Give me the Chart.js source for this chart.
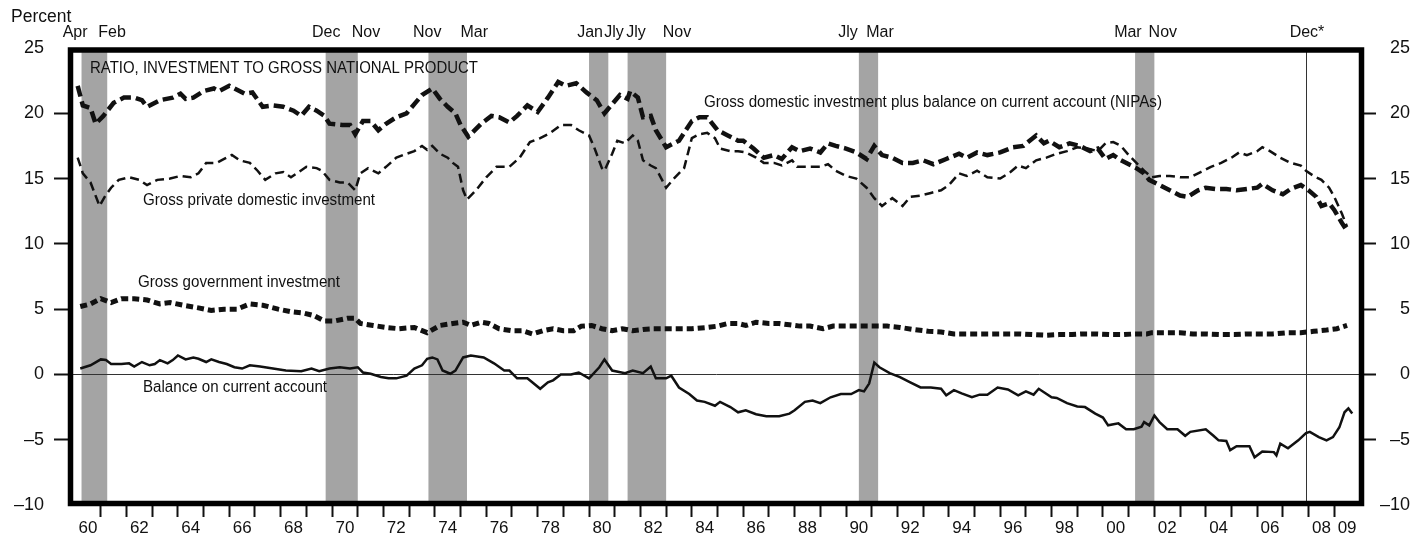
<!DOCTYPE html>
<html lang="en">
<head>
<meta charset="UTF-8">
<title>Ratio, investment to gross national product</title>
<script src="https://cdn.jsdelivr.net/npm/chart.js"></script>
<style>
  html, body { margin: 0; padding: 0; background: #fff; }
  #wrap { width: 1425px; height: 540px; position: relative; }
</style>
</head>
<body>
<div id="wrap"><canvas id="chart"></canvas></div>
<script>
// Gross domestic investment plus balance on current account (NIPAs)
const gdiYears = [1960.1,1960.3,1960.6,1960.8,1961.1,1961.5,1961.9,1962.3,1962.6,1962.8,1963.3,1963.8,1964.1,1964.3,1964.6,1965.0,1965.4,1965.6,1966.0,1966.3,1966.6,1966.9,1967.3,1967.7,1968.1,1968.5,1968.8,1969.1,1969.4,1969.7,1969.9,1970.4,1970.7,1970.9,1971.2,1971.5,1971.8,1972.1,1972.5,1972.9,1973.2,1973.5,1973.9,1974.2,1974.5,1974.8,1975.0,1975.3,1975.8,1976.2,1976.5,1976.9,1977.2,1977.6,1978.0,1978.4,1978.8,1979.1,1979.5,1979.9,1980.3,1980.6,1980.9,1981.2,1981.5,1981.6,1981.9,1982.1,1982.4,1982.6,1983.0,1983.5,1984.0,1984.3,1984.6,1985.0,1985.4,1985.8,1986.0,1986.4,1986.8,1987.2,1987.5,1987.9,1988.2,1988.6,1989.0,1989.3,1989.6,1990.0,1990.4,1990.8,1991.1,1991.4,1991.8,1992.2,1992.6,1993.0,1993.4,1993.9,1994.4,1994.7,1995.1,1995.5,1996.0,1996.5,1996.9,1997.4,1997.7,1997.9,1998.3,1998.7,1999.1,1999.5,1999.8,2000.1,2000.4,2000.7,2001.1,2001.3,2001.6,2001.8,2002.2,2002.6,2003.0,2003.3,2003.7,2004.0,2004.4,2004.8,2005.2,2005.6,2006.0,2006.2,2006.6,2007.0,2007.3,2007.7,2008.0,2008.3,2008.5,2008.8,2009.0,2009.3,2009.5];
const gdiValues = [22.1,20.6,20.4,19.2,19.8,20.8,21.2,21.2,21.0,20.5,21.0,21.2,21.5,21.1,21.2,21.7,21.9,21.7,22.1,21.8,21.5,21.6,20.5,20.6,20.5,20.2,19.8,20.5,20.2,19.8,19.2,19.1,19.1,18.4,19.4,19.4,18.7,19.2,19.7,20.0,20.7,21.4,21.9,21.1,20.5,20.0,19.1,18.2,19.2,19.8,19.7,19.3,19.8,20.6,20.1,21.2,22.4,22.1,22.3,21.6,21.0,20.0,20.7,21.4,21.1,21.7,21.2,19.7,19.8,18.7,17.4,17.9,19.4,19.7,19.7,18.7,18.3,17.9,17.9,17.3,16.6,16.8,16.5,17.4,17.1,17.3,17.0,17.7,17.5,17.3,17.0,16.5,17.5,16.8,16.6,16.2,16.2,16.4,16.1,16.5,16.9,16.6,17.0,16.8,17.0,17.4,17.5,18.3,17.7,17.9,17.4,17.7,17.5,17.1,17.3,16.5,16.8,16.4,16.0,15.8,15.4,14.9,14.5,14.1,13.7,13.6,14.1,14.3,14.2,14.2,14.1,14.2,14.3,14.6,14.1,13.8,14.2,14.5,14.1,13.6,12.9,13.1,12.6,11.6,11.0];

// Gross private domestic investment
const privYears = [1960.1,1960.3,1960.6,1960.95,1961.15,1961.4,1961.7,1962.1,1962.5,1962.8,1963.2,1963.7,1964.1,1964.5,1964.8,1965.1,1965.5,1965.8,1966.1,1966.4,1966.8,1967.1,1967.4,1967.8,1968.1,1968.4,1968.7,1969.0,1969.4,1969.6,1969.9,1970.3,1970.6,1970.9,1971.1,1971.4,1971.8,1972.1,1972.5,1972.9,1973.2,1973.5,1973.7,1973.9,1974.2,1974.5,1974.7,1974.9,1975.1,1975.25,1975.6,1976.0,1976.4,1976.9,1977.3,1977.7,1978.1,1978.5,1978.9,1979.3,1979.6,1980.0,1980.2,1980.5,1980.6,1980.9,1981.1,1981.4,1981.7,1981.9,1982.1,1982.4,1982.6,1983.0,1983.3,1983.7,1984.0,1984.3,1984.6,1984.9,1985.1,1985.5,1985.8,1986.1,1986.5,1986.8,1987.2,1987.5,1987.9,1988.1,1988.6,1989.0,1989.3,1989.6,1990.0,1990.4,1990.8,1991.1,1991.4,1991.8,1992.2,1992.5,1992.9,1993.3,1993.7,1994.0,1994.4,1994.7,1995.1,1995.5,1996.0,1996.4,1996.7,1997.0,1997.4,1997.8,1998.2,1998.6,1999.0,1999.4,1999.8,2000.1,2000.4,2000.7,2001.0,2001.3,2001.6,2001.9,2002.2,2002.6,2003.0,2003.4,2003.8,2004.2,2004.6,2005.0,2005.3,2005.6,2006.0,2006.2,2006.5,2006.9,2007.3,2007.7,2007.9,2008.2,2008.5,2008.8,2009.0,2009.3,2009.5];
const privValues = [16.6,15.4,14.7,12.9,13.6,14.3,14.9,15.1,14.9,14.5,14.9,15.0,15.2,15.1,15.4,16.2,16.2,16.5,16.8,16.4,16.2,15.6,14.9,15.4,15.5,15.1,15.5,15.9,15.8,15.6,14.9,14.7,14.7,14.1,15.4,15.8,15.4,15.9,16.6,16.9,17.1,17.5,17.2,17.5,16.9,16.6,16.2,15.9,14.1,13.4,14.1,15.1,15.9,15.9,16.6,17.8,18.1,18.5,19.1,19.1,18.7,18.3,17.4,15.8,15.6,16.9,17.9,17.7,18.3,17.9,16.4,16.0,15.8,14.3,15.0,15.8,18.1,18.4,18.5,18.1,17.3,17.1,17.1,17.0,16.6,16.2,16.2,16.0,16.4,15.9,15.9,15.9,16.1,15.6,15.2,15.0,14.3,13.5,12.9,13.5,12.9,13.6,13.7,13.9,14.1,14.5,15.4,15.2,15.6,15.1,15.0,15.5,16.0,15.8,16.4,16.6,16.9,17.1,17.4,17.3,17.1,17.7,17.8,17.5,16.8,16.2,15.6,15.1,15.2,15.2,15.1,15.1,15.5,15.9,16.2,16.6,17.0,16.8,17.1,17.4,17.1,16.6,16.2,16.0,15.6,15.2,14.9,14.3,13.6,12.3,11.3];

// Gross government investment
const govYears = [1960.2,1960.6,1961.0,1961.4,1961.8,1962.3,1962.8,1963.3,1963.7,1964.2,1964.8,1965.3,1965.8,1966.3,1966.8,1967.3,1967.9,1968.4,1968.9,1969.3,1969.7,1970.1,1970.6,1970.9,1971.1,1971.6,1972.1,1972.6,1973.2,1973.7,1974.2,1974.7,1975.1,1975.4,1975.8,1976.1,1976.5,1977.0,1977.4,1977.8,1978.2,1978.6,1979.0,1979.4,1979.7,1980.1,1980.5,1980.9,1981.3,1981.7,1982.1,1982.5,1983.0,1983.5,1984.0,1984.6,1985.0,1985.4,1985.8,1986.1,1986.5,1987.0,1987.4,1987.8,1988.2,1988.6,1989.1,1989.5,1990.0,1990.5,1991.0,1991.6,1992.1,1992.6,1993.2,1993.7,1994.2,1994.7,1995.2,1995.7,1996.3,1996.8,1997.3,1997.8,1998.3,1998.8,1999.2,1999.8,2000.3,2000.8,2001.2,2001.7,2001.9,2002.5,2003.0,2003.5,2004.0,2004.6,2005.1,2005.6,2006.1,2006.6,2007.2,2007.7,2008.2,2008.7,2009.1,2009.5];
const govValues = [5.2,5.4,5.8,5.5,5.8,5.8,5.7,5.4,5.5,5.3,5.1,4.9,5.0,5.0,5.4,5.3,5.0,4.8,4.7,4.5,4.1,4.1,4.3,4.3,3.9,3.75,3.6,3.5,3.6,3.2,3.75,3.9,4.0,3.75,4.0,3.9,3.5,3.35,3.35,3.1,3.35,3.5,3.35,3.35,3.7,3.75,3.5,3.35,3.5,3.35,3.45,3.5,3.5,3.5,3.5,3.6,3.7,3.9,3.9,3.75,4.0,3.9,3.9,3.8,3.7,3.7,3.5,3.7,3.7,3.7,3.7,3.7,3.6,3.45,3.3,3.25,3.1,3.1,3.1,3.1,3.1,3.1,3.05,3.0,3.05,3.05,3.1,3.1,3.05,3.05,3.1,3.1,3.2,3.2,3.2,3.1,3.1,3.05,3.05,3.1,3.1,3.1,3.2,3.2,3.3,3.4,3.5,3.75];

// Balance on current account
const caYears = [1960.2,1960.6,1961.0,1961.2,1961.4,1961.8,1962.1,1962.3,1962.6,1962.9,1963.1,1963.3,1963.6,1963.8,1964.0,1964.3,1964.6,1964.8,1965.1,1965.3,1965.6,1965.9,1966.2,1966.5,1966.8,1967.2,1967.7,1968.2,1968.8,1969.2,1969.5,1969.9,1970.3,1970.7,1971.0,1971.2,1971.5,1971.9,1972.2,1972.5,1972.9,1973.2,1973.5,1973.7,1973.9,1974.1,1974.3,1974.6,1974.8,1975.1,1975.4,1975.9,1976.3,1976.7,1976.9,1977.2,1977.6,1978.1,1978.4,1978.6,1978.9,1979.3,1979.6,1980.0,1980.4,1980.6,1980.9,1981.4,1981.7,1982.1,1982.4,1982.6,1983.0,1983.2,1983.5,1983.9,1984.2,1984.5,1984.9,1985.1,1985.5,1985.8,1986.1,1986.5,1986.9,1987.4,1987.8,1988.0,1988.4,1988.7,1989.0,1989.4,1989.8,1990.2,1990.5,1990.7,1990.9,1991.1,1991.3,1991.7,1992.1,1992.5,1992.9,1993.3,1993.7,1993.9,1994.2,1994.5,1994.9,1995.2,1995.5,1995.9,1996.3,1996.7,1997.0,1997.3,1997.5,1998.0,1998.2,1998.6,1999.0,1999.3,1999.7,2000.0,2000.2,2000.6,2000.9,2001.2,2001.5,2001.6,2001.8,2002.0,2002.2,2002.5,2002.9,2003.2,2003.4,2004.0,2004.3,2004.5,2004.8,2004.95,2005.2,2005.7,2005.9,2006.2,2006.65,2006.75,2006.9,2007.2,2007.6,2007.9,2008.05,2008.4,2008.7,2008.95,2009.2,2009.4,2009.55,2009.7];
const caValues = [0.45,0.7,1.15,1.1,0.8,0.8,0.85,0.6,0.95,0.7,0.8,1.1,0.85,1.1,1.45,1.15,1.3,1.2,0.95,1.15,0.95,0.8,0.55,0.45,0.7,0.6,0.45,0.3,0.25,0.45,0.25,0.45,0.55,0.45,0.55,0.15,0.05,-0.2,-0.3,-0.3,-0.1,0.45,0.7,1.2,1.3,1.15,0.3,0.05,0.3,1.3,1.45,1.3,0.85,0.3,0.3,-0.3,-0.3,-1.1,-0.6,-0.45,0.0,0.0,0.15,-0.3,0.55,1.15,0.3,0.1,0.3,0.1,0.6,-0.3,-0.3,-0.1,-1.0,-1.5,-2.0,-2.1,-2.4,-2.1,-2.5,-2.9,-2.75,-3.05,-3.2,-3.2,-3.0,-2.75,-2.1,-2.0,-2.2,-1.75,-1.5,-1.5,-1.2,-1.3,-0.7,0.9,0.55,0.1,-0.2,-0.6,-1.0,-1.0,-1.1,-1.6,-1.2,-1.45,-1.75,-1.55,-1.55,-1.0,-1.15,-1.6,-1.3,-1.55,-1.1,-1.75,-1.8,-2.2,-2.45,-2.5,-3.0,-3.3,-3.9,-3.75,-4.2,-4.2,-4.0,-3.65,-3.9,-3.15,-3.65,-4.2,-4.2,-4.7,-4.4,-4.2,-4.7,-5.05,-5.1,-5.8,-5.5,-5.5,-6.35,-5.9,-5.95,-6.2,-5.3,-5.65,-5.05,-4.5,-4.4,-4.8,-5.05,-4.8,-4.05,-2.9,-2.6,-3.0];

// recessions (shaded) and the month labels above the frame
const recStart = [1960.25, 1969.75, 1973.75, 1980.0, 1981.5, 1990.5, 2001.25];
const recEnd = [1961.25, 1971.0, 1975.25, 1980.75, 1983.0, 1991.25, 2002.0];
const peakLine = 2007.9;
const monthLabels = ['Apr','Feb','Dec','Nov','Nov','Mar','Jan','Jly','Jly','Nov','Jly','Mar','Mar','Nov','Dec*'];
const monthYears = [1960.0,1961.44,1969.77,1971.32,1973.7,1975.53,1980.04,1980.97,1981.83,1983.42,1990.08,1991.32,2000.97,2002.33,2007.94];

// axis ticks
const tickYears = [];
for (let yr = 1960; yr <= 2010; yr++) tickYears.push(yr);
const xLabelYears = [1960,1962,1964,1966,1968,1970,1972,1974,1976,1978,1980,1982,1984,1986,1988,1990,1992,1994,1996,1998,2000,2002,2004,2006,2008,2009];
const xLabels = ['60','62','64','66','68','70','72','74','76','78','80','82','84','86','88','90','92','94','96','98','00','02','04','06','08','09'];

const narrow = '"Liberation Sans Narrow", "Arial Narrow", "Liberation Sans", Arial, sans-serif';
const regular = '"Liberation Sans", Arial, Helvetica, sans-serif';
const ink = '#111';

function pts(xs, ys) {
    return xs.map((v, i) => ({ x: v, y: ys[i] }));
}

// text squeezed or stretched to the width it has in the original
function fitText(ctx, text, left, cy, size, width) {
    ctx.save();
    ctx.font = size + 'px ' + narrow;
    const w = ctx.measureText(text).width;
    ctx.translate(left, cy);
    ctx.scale(width / w, 1);
    ctx.textAlign = 'left';
    ctx.textBaseline = 'middle';
    ctx.fillText(text, 0, 0);
    ctx.restore();
}

const decor = {
    id: 'decor',
    beforeDatasetsDraw(chart) {
        const { ctx, chartArea: a, scales: { x, y } } = chart;
        ctx.save();
        ctx.fillStyle = '#a4a4a4';
        recStart.forEach((s, i) => {
            const x0 = x.getPixelForValue(s);
            const x1 = x.getPixelForValue(recEnd[i]);
            ctx.fillRect(x0, a.top, x1 - x0, a.bottom - a.top);
        });
        ctx.strokeStyle = '#333';
        ctx.lineWidth = 1;
        const y0 = Math.round(y.getPixelForValue(0)) + 0.5;
        ctx.beginPath();
        ctx.moveTo(a.left, y0);
        ctx.lineTo(a.right, y0);
        const xd = Math.round(x.getPixelForValue(peakLine)) + 0.5;
        ctx.moveTo(xd, a.top);
        ctx.lineTo(xd, a.bottom);
        ctx.stroke();
        ctx.restore();
    },
    afterDraw(chart) {
        const { ctx, chartArea: a, scales: { x } } = chart;
        ctx.save();
        // heavy frame
        ctx.strokeStyle = '#000';
        ctx.lineWidth = 5.5;
        ctx.strokeRect(a.left - 0.5, a.top + 2, a.right - a.left, a.bottom - a.top - 3.5);

        ctx.fillStyle = ink;
        ctx.font = '17.5px ' + regular;
        ctx.textAlign = 'left';
        ctx.textBaseline = 'middle';
        ctx.fillText('Percent', 11, 17);

        ctx.font = '16px ' + narrow;
        ctx.textAlign = 'center';
        monthLabels.forEach((m, i) => {
            ctx.fillText(m, x.getPixelForValue(monthYears[i]), 33);
        });

        fitText(ctx, 'RATIO, INVESTMENT TO GROSS NATIONAL PRODUCT', 90, 68, 16.5, 388);
        fitText(ctx, 'Gross domestic investment plus balance on current account (NIPAs)', 704, 103, 16, 458);
        fitText(ctx, 'Gross private domestic investment', 143, 201, 16, 232);
        fitText(ctx, 'Gross government investment', 138, 283, 16, 202);
        fitText(ctx, 'Balance on current account', 143, 388, 16, 184);
        ctx.restore();
    }
};

function yLabel(v) {
    return v < 0 ? '\u2013' + Math.abs(v) : String(v);
}

function yTickColor(c) {
    return (c.tick && (c.tick.value === 25 || c.tick.value === -10)) ? 'rgba(0,0,0,0)' : ink;
}

const ctx = document.getElementById('chart').getContext('2d');
new Chart(ctx, {
    type: 'line',
    data: {
        datasets: [
            {
                label: 'Gross domestic investment plus balance on current account (NIPAs)',
                data: pts(gdiYears, gdiValues),
                borderColor: ink, borderWidth: 4.5, borderDash: [11, 5],
                pointRadius: 0, tension: 0
            },
            {
                label: 'Gross private domestic investment',
                data: pts(privYears, privValues),
                borderColor: ink, borderWidth: 2.5, borderDash: [9, 5],
                pointRadius: 0, tension: 0
            },
            {
                label: 'Gross government investment',
                data: pts(govYears, govValues),
                borderColor: ink, borderWidth: 5, borderDash: [7, 4],
                pointRadius: 0, tension: 0
            },
            {
                label: 'Balance on current account',
                data: pts(caYears, caValues),
                borderColor: ink, borderWidth: 2.5,
                pointRadius: 0, tension: 0
            }
        ]
    },
    options: {
        responsive: true,
        maintainAspectRatio: false,
        animation: false,
        layout: { padding: { top: 48, right: 15, bottom: 0, left: 0 } },
        plugins: { legend: { display: false }, tooltip: { enabled: false } },
        scales: {
            x: {
                type: 'linear',
                position: 'bottom',
                min: 1959.84,
                max: 2010.08,
                afterBuildTicks: s => { s.ticks = tickYears.map(v => ({ value: v })); },
                afterFit: s => { s.height = 35; },
                border: { display: false },
                grid: {
                    drawOnChartArea: false,
                    drawTicks: true,
                    tickLength: 12,
                    tickWidth: 2,
                    tickColor: c => (c.tick && (c.tick.value === 1960 || c.tick.value === 2010)) ? 'rgba(0,0,0,0)' : ink
                },
                ticks: {
                    autoSkip: false,
                    maxRotation: 0,
                    labelOffset: 12.85,
                    padding: 1,
                    color: ink,
                    font: { family: narrow, size: 17 },
                    callback: v => {
                        const i = xLabelYears.indexOf(v);
                        return i >= 0 ? xLabels[i] : '';
                    }
                }
            },
            y: {
                position: 'left',
                min: -10,
                max: 25,
                afterFit: s => { s.width = 71; },
                border: { display: false },
                grid: { drawOnChartArea: false, tickLength: 17, tickWidth: 2, tickColor: yTickColor },
                ticks: { stepSize: 5, padding: 10, color: ink, font: { family: regular, size: 18 }, callback: yLabel }
            },
            y2: {
                position: 'right',
                min: -10,
                max: 25,
                afterFit: s => { s.width = 48; },
                border: { display: false },
                grid: { drawOnChartArea: false, tickLength: 14, tickWidth: 2, tickColor: yTickColor },
                ticks: { stepSize: 5, crossAlign: 'far', color: ink, font: { family: regular, size: 18 }, callback: yLabel }
            }
        }
    },
    plugins: [decor]
});
</script>
</body>
</html>
